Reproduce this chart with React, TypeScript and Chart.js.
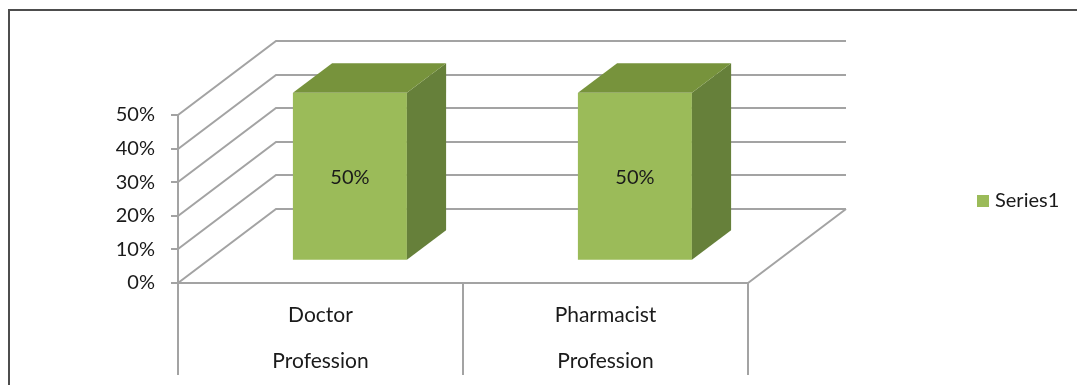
import React, { useEffect, useRef } from "react";
import { Chart, registerables } from "chart.js";

Chart.register(...registerables);

// ---- data ----
const categories: string[][] = [
  ["Doctor", "Profession"],
  ["Pharmacist", "Profession"],
];
const seriesLabel = "Series1";
const seriesValues = [50, 50];
const yMin = 0;
const yMax = 50;
const yStep = 10;

// ---- style ----
const FONT = "Lato";
const TEXT = "#1a1a1a";
const LINE = "#a3a3a3";
const LW = 2;
const FRONT = "#9BBB59";
const TOP = "#77933C";
const SIDE = "#66803A";
// 3D projection of the full floor depth
const DX = 98;
const DY = -74;
const BAR_FRONT = 0.3; // depth where bar's front face sits
const BAR_DEPTH = 0.4; // bar depth as fraction of floor depth

const threeD = {
  id: "threeD",
  beforeDraw(chart: any) {
    const ctx = chart.ctx;
    ctx.save();
    ctx.fillStyle = "#ffffff";
    ctx.fillRect(0, 0, chart.width, chart.height);
    ctx.strokeStyle = "#4d4d4d";
    ctx.lineWidth = 2;
    ctx.strokeRect(9, 10, chart.width + 20, chart.height + 20);
    ctx.restore();
  },
  beforeDatasetsDraw(chart: any) {
    const ctx = chart.ctx;
    const { left, right, bottom } = chart.chartArea;
    const ys = chart.scales.y;
    const xs = chart.scales.x;
    ctx.save();
    ctx.strokeStyle = LINE;
    ctx.lineWidth = LW;
    ctx.beginPath();
    for (const t of ys.ticks) {
      const yf = Math.round(ys.getPixelForValue(t.value));
      ctx.moveTo(left, yf);
      ctx.lineTo(left + DX, yf + DY);
      ctx.lineTo(right + DX, yf + DY);
    }
    const yb = Math.round(bottom);
    ctx.moveTo(right, yb);
    ctx.lineTo(right + DX, yb + DY);
    const n = categories.length;
    const step = (right - left) / n;
    for (let i = 0; i <= n; i++) {
      const c = i < n ? xs.getPixelForValue(i) - step / 2 : xs.getPixelForValue(n - 1) + step / 2;
      const xx = Math.round(c);
      ctx.moveTo(xx, bottom);
      ctx.lineTo(xx, bottom + 92);
    }
    ctx.stroke();
    ctx.restore();

    ctx.save();
    ctx.translate(DX * BAR_FRONT, DY * BAR_FRONT);
  },
  afterDatasetsDraw(chart: any) {
    const ctx = chart.ctx;
    ctx.restore();
    const meta = chart.getDatasetMeta(0);
    const ox = DX * BAR_FRONT;
    const oy = DY * BAR_FRONT;
    const dx = DX * BAR_DEPTH;
    const dy = DY * BAR_DEPTH;
    ctx.save();
    meta.data.forEach((bar: any, i: number) => {
      const p = bar.getProps(["x", "y", "base", "width"], true);
      const l = p.x - p.width / 2 + ox;
      const r = p.x + p.width / 2 + ox;
      const t = p.y + oy;
      const b = p.base + oy;
      ctx.fillStyle = SIDE;
      ctx.beginPath();
      ctx.moveTo(r, t);
      ctx.lineTo(r + dx, t + dy);
      ctx.lineTo(r + dx, b + dy);
      ctx.lineTo(r, b);
      ctx.closePath();
      ctx.fill();
      ctx.fillStyle = TOP;
      ctx.beginPath();
      ctx.moveTo(l, t);
      ctx.lineTo(r, t);
      ctx.lineTo(r + dx, t + dy);
      ctx.lineTo(l + dx, t + dy);
      ctx.closePath();
      ctx.fill();
      ctx.fillStyle = TEXT;
      ctx.font = `20px ${FONT}`;
      ctx.textAlign = "center";
      ctx.textBaseline = "middle";
      ctx.fillText(seriesValues[i] + "%", (l + r) / 2, (t + b) / 2 + 1);
    });
    const ds = chart.data.datasets[0];
    ctx.fillStyle = ds.backgroundColor;
    ctx.fillRect(977, 195, 12, 12);
    ctx.fillStyle = TEXT;
    ctx.font = `20px ${FONT}`;
    ctx.textAlign = "left";
    ctx.textBaseline = "middle";
    ctx.fillText(ds.label, 995, 201);
    ctx.restore();
  },
};

export default function App() {
  const ref = useRef<HTMLCanvasElement | null>(null);
  useEffect(() => {
    document.body.style.margin = "0";
    const canvas = ref.current!;
    const chart = new Chart(canvas, {
      type: "bar",
      data: {
        labels: categories,
        datasets: [
          {
            label: seriesLabel,
            data: seriesValues,
            backgroundColor: FRONT,
            borderWidth: 0,
            barPercentage: 0.4,
            categoryPercentage: 1,
          },
        ],
      },
      options: {
        responsive: false,
        animation: false,
        events: [],
        layout: { padding: { top: 115, left: 108, right: 329, bottom: 0 } },
        plugins: {
          legend: { display: false },
          tooltip: { enabled: false },
          title: { display: false },
        },
        scales: {
          x: {
            type: "category",
            offset: true,
            grid: { display: false },
            border: { display: true, color: LINE, width: LW },
            ticks: {
              color: TEXT,
              padding: 1,
              maxRotation: 0,
              autoSkip: false,
              font: { family: FONT, size: 21, lineHeight: 46 / 21 },
            },
            afterFit: (s: any) => {
              s.height = 102;
            },
          },
          y: {
            type: "linear",
            min: yMin,
            max: yMax,
            grid: {
              drawOnChartArea: false,
              drawTicks: true,
              tickLength: 7,
              tickWidth: LW,
              lineWidth: LW,
              color: LINE,
            },
            border: { display: true, color: LINE, width: LW },
            ticks: {
              stepSize: yStep,
              color: TEXT,
              padding: 16,
              font: { family: FONT, size: 20 },
              callback: (v: any) => v + "%",
            },
            afterFit: (s: any) => {
              s.width = 70;
            },
          },
        },
      },
      plugins: [threeD],
    });
    return () => chart.destroy();
  }, []);
  return (
    <div style={{ width: 1077, height: 385 }}>
      <canvas ref={ref} width={1077} height={385} style={{ display: "block" }} />
    </div>
  );
}
